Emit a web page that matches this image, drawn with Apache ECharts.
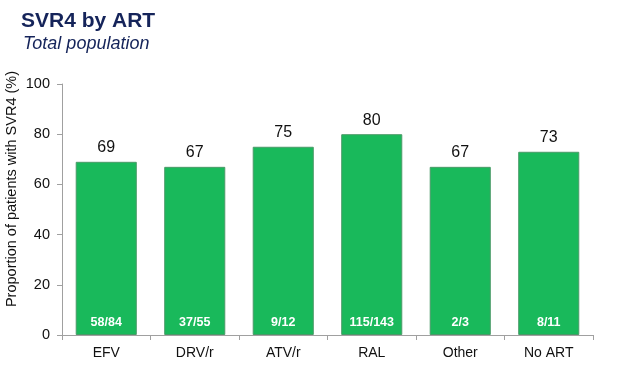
<!DOCTYPE html>
<html><head><meta charset="utf-8">
<script src="https://cdn.jsdelivr.net/npm/echarts@6/dist/echarts.min.js"></script>
<style>html,body{margin:0;padding:0;background:#fff}#c{width:620px;height:369px}</style>
</head><body><div id="c"></div>
<script>
var categories = ["EFV", "DRV/r", "ATV/r", "RAL", "Other", "No ART"];
var values = [69, 67, 75, 80, 67, 73];
var ratios = ["58/84", "37/55", "9/12", "115/143", "2/3", "8/11"];
var yTicks = [0, 20, 40, 60, 80, 100];
var yTitle = 'Proportion of patients with SVR4 (%)';

var chart = echarts.init(document.getElementById('c'), null, {renderer: 'canvas'});
chart.setOption({
  animation: false,
  backgroundColor: '#fff',
  title: [{
    text: 'SVR4 by ART', left: 16, top: 6,
    textStyle: {fontFamily: 'Liberation Sans, Arial', fontWeight: 'bold', fontSize: 21, color: '#15245a'}
  }, {
    text: 'Total population', left: 18, top: 30,
    textStyle: {fontFamily: 'Liberation Sans, Arial', fontStyle: 'italic', fontWeight: 'normal', fontSize: 18, color: '#15245a'}
  }],
  graphic: [{
    type: 'text', x: 12, y: 189, rotation: Math.PI / 2, silent: true,
    style: {text: yTitle, fontSize: 14.5, fill: '#111', fontFamily: 'Liberation Sans, Arial', align: 'center', verticalAlign: 'middle'}
  }],
  grid: {left: 62, right: 27, top: 84, bottom: 34, containLabel: false, outerBoundsMode: 'none'},
  xAxis: {
    type: 'category', data: categories,
    axisLine: {lineStyle: {color: '#a0a0a0'}},
    axisTick: {show: true, alignWithLabel: false, length: 5, lineStyle: {color: '#a0a0a0'}},
    axisLabel: {color: '#111', fontSize: 14, fontFamily: 'Liberation Sans, Arial', margin: 11}
  },
  yAxis: {
    type: 'value', min: yTicks[0], max: yTicks[yTicks.length - 1], interval: 20,
    axisLine: {show: true, lineStyle: {color: '#a0a0a0'}},
    axisTick: {show: true, inside: false, length: 5, lineStyle: {color: '#a0a0a0'}},
    splitLine: {show: false},
    axisLabel: {color: '#111', fontSize: 14.5, fontFamily: 'Liberation Sans, Arial', margin: 12}
  },
  series: [{
    type: 'bar', data: values, barWidth: '69%',
    itemStyle: {color: '#19b95b', borderColor: '#4a9a68', borderWidth: 1},
    label: {show: true, position: 'top', distance: 6, color: '#111', fontSize: 16, fontFamily: 'Liberation Sans, Arial'}
  }, {
    type: 'bar', data: values, barWidth: '69%', barGap: '-100%', silent: true,
    itemStyle: {color: 'rgba(0,0,0,0)'},
    label: {
      show: true, position: 'insideBottom', distance: 6, color: '#fff', fontWeight: 'bold', fontSize: 12.5,
      fontFamily: 'Liberation Sans, Arial',
      formatter: function (p) { return ratios[p.dataIndex]; }
    }
  }]
});
</script></body></html>
